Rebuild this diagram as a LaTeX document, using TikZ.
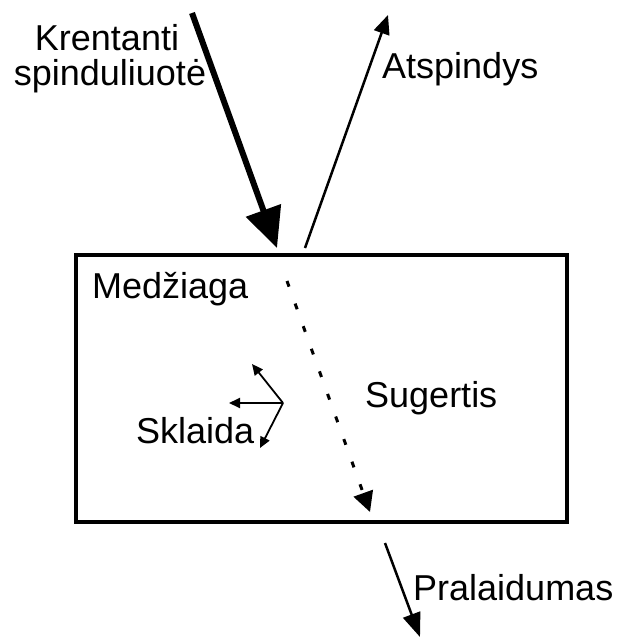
\documentclass[tikz,border=0pt]{standalone}
\usepackage{fontspec}
\setmainfont{Liberation Sans}
\usetikzlibrary{arrows.meta,positioning}
\begin{document}
\begin{tikzpicture}[x=1pt, y=-1pt,
  every node/.style={font=\fontsize{36}{36}\selectfont, inner sep=0pt, anchor=base west},
  ray/.style={line width=2.5pt, -{Triangle[length=20pt, width=16pt]}},
  smallray/.style={line width=1.8pt, -{Triangle[length=11pt, width=10pt]}}]
\useasboundingbox (0,0) rectangle (621,638);

% Material
\node[draw, line width=3.5pt, minimum width=491pt, minimum height=267pt, anchor=center] (box) at (321.5,388.5) {};
\node (medziaga) at (92,298) {Medžiaga};

% Incident radiation
\node[anchor=base] (krentanti) at (107,50) {Krentanti};
\node[anchor=base] (spinduliuote) at (110,85) {spinduliuotė};
\coordinate (inStart) at (192,13);
\coordinate (inEnd) at (277,248);
\draw[line width=6pt, -{Triangle[length=40pt, width=36pt]}] (inStart) -- (inEnd);

% Reflection
\coordinate (refStart) at (305,248);
\coordinate (refEnd) at (388,15);
\draw[ray, -{Triangle[length=19pt, width=16pt]}] (refStart) -- (refEnd);
\node (atspindys) at (382,78) {Atspindys};

% Absorption
\coordinate (absStart) at (287,281);
\coordinate (absEnd) at (370,512);
\draw[line width=3pt, dash pattern=on 6pt off 18pt, -{Triangle[length=20pt, width=20pt]}] (absStart) -- (absEnd);
\node (sugertis) at (365,407) {Sugertis};

% Scattering
\coordinate (scCenter) at (283,403);
\coordinate (scUp) at (252,364);
\coordinate (scLeft) at (229,403);
\coordinate (scDown) at (260,448);
\draw[smallray] (scCenter) -- (scUp);
\draw[smallray] (scCenter) -- (scLeft);
\draw[smallray] (scCenter) -- (scDown);
\node (sklaida) at (136,443) {Sklaida};

% Transmission
\coordinate (trStart) at (385,543);
\coordinate (trEnd) at (420,637);
\draw[ray, -{Triangle[length=24pt, width=18pt]}] (trStart) -- (trEnd);
\node (pralaidumas) at (413,600) {Pralaidumas};

\end{tikzpicture}
\end{document}
